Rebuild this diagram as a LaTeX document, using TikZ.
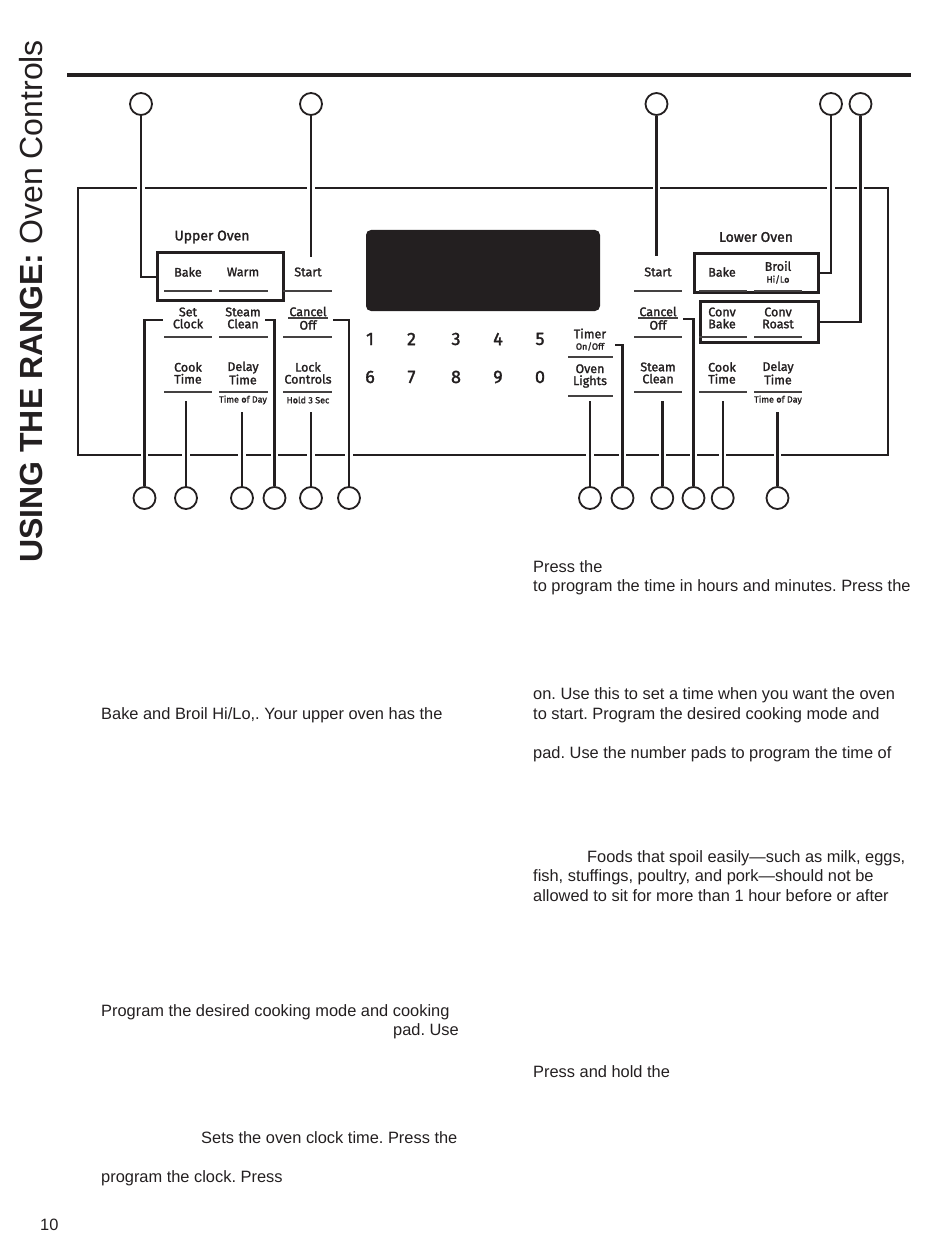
\documentclass[tikz,border=0pt]{standalone}
\usepackage{fontspec}
\setmainfont{Liberation Sans}
\newfontfamily\lab{Fira Sans}[FakeBold=1.6]
\definecolor{ink}{HTML}{231F20}
\frenchspacing
\tikzset{
  panelline/.style={line width=2.4pt, draw=ink},
  conn/.style={line width=2.4pt, draw=ink, preaction={draw=white, line width=7.5pt}},
  callout/.style={circle, draw=ink, line width=1.8pt, fill=white, minimum size=22pt, inner sep=0pt},
  keybox/.style={draw=ink, line width=3pt, inner sep=0pt},
  uline/.style={line width=1.2pt, draw=ink!85},
  btn/.style={font=\lab\fontsize{12.5}{12}\selectfont, text=ink, align=center, inner sep=0pt},
  small/.style={font=\lab\fontsize{9}{9}\selectfont, text=ink, inner sep=0pt},
  digit/.style={font=\lab\fontsize{18}{18}\selectfont, text=ink, inner sep=0pt},
  head/.style={font=\lab\fontsize{14}{14}\selectfont, text=ink, inner sep=0pt},
  body/.style={font=\fontsize{16.4}{19.5}\selectfont, text=ink, anchor=base west, inner sep=0pt},
}
\begin{document}
\begin{tikzpicture}[x=1pt,y=-1pt]
\useasboundingbox (0,0) rectangle (950,1241);
% side title
\node[rotate=90, anchor=base west, inner sep=0pt, text=ink, font=\fontsize{32}{32}\selectfont] (title) at (42,563) {\textbf{USING THE RANGE:} Oven Controls};
% top rule
\draw[line width=3.5pt, draw=ink] (67,75) -- (911,75);
% panel
\draw[panelline] (78,188) rectangle (888,455);
% display
\fill[ink, rounded corners=5pt] (366,230) rectangle (600,311);
% callout circles
\node[callout] (tc1) at (141,104) {};
\node[callout] (tc2) at (311,104) {};
\node[callout] (tc3) at (656.5,104) {};
\node[callout] (tc4) at (831,104) {};
\node[callout] (tc5) at (860.5,104) {};
\node[callout] (bc1) at (144.5,498) {};
\node[callout] (bc2) at (186,498) {};
\node[callout] (bc3) at (242,498) {};
\node[callout] (bc4) at (274.5,498) {};
\node[callout] (bc5) at (311,498) {};
\node[callout] (bc6) at (349,498) {};
\node[callout] (bc7) at (590,498) {};
\node[callout] (bc8) at (622.5,498) {};
\node[callout] (bc9) at (662.3,498) {};
\node[callout] (bc10) at (693.5,498) {};
\node[callout] (bc11) at (722.7,498) {};
\node[callout] (bc12) at (777.5,498) {};
% boxes
\node[keybox, minimum width=126pt, minimum height=48pt] (ubox) at (220.3,276.7) {};
\node[keybox, minimum width=124pt, minimum height=39.4pt] (lbox1) at (756.3,273) {};
\node[keybox, minimum width=118.3pt, minimum height=41.3pt] (lbox2) at (759.2,321.7) {};
% connector end points
\coordinate (c2end) at (311,257);
\coordinate (c3end) at (656.5,256);
\coordinate (e1) at (162.5,320);
\coordinate (e2) at (186,401);
\coordinate (e3) at (242,412);
\coordinate (e4) at (265,320);
\coordinate (e5) at (311,412);
\coordinate (e6) at (333,320);
\coordinate (e7) at (590,401);
\coordinate (e8) at (615,345);
\coordinate (e9) at (662.3,401);
\coordinate (e10) at (683,319);
\coordinate (e11) at (722.7,401);
\coordinate (e12) at (777.5,412);
% connectors
\draw[conn] (tc1.south) |- (ubox.west);
\draw[conn] (tc2.south) -- (c2end);
\draw[conn] (tc3.south) -- (c3end);
\draw[conn] (tc4.south) |- (lbox1.east);
\draw[conn] (tc5.south) |- (lbox2.east);
\draw[conn] (bc1.north) |- (e1);
\draw[conn] (bc2.north) -- (e2);
\draw[conn] (bc3.north) -- (e3);
\draw[conn] (bc4.north) |- (e4);
\draw[conn] (bc5.north) -- (e5);
\draw[conn] (bc6.north) |- (e6);
\draw[conn] (bc7.north) -- (e7);
\draw[conn] (bc8.north) |- (e8);
\draw[conn] (bc9.north) -- (e9);
\draw[conn] (bc10.north) |- (e10);
\draw[conn] (bc11.north) -- (e11);
\draw[conn] (bc12.north) -- (e12);
% redraw boxes on top
\node[keybox, minimum width=126pt, minimum height=48pt] at (220.3,276.7) {};
\node[keybox, minimum width=124pt, minimum height=39.4pt] at (756.3,273) {};
\node[keybox, minimum width=118.3pt, minimum height=41.3pt] at (759.2,321.7) {};
% underlines
\foreach \y in {291,337,392}{
  \draw[uline] (164,\y) -- (212,\y);
  \draw[uline] (219,\y) -- (268,\y);
  \draw[uline] (283,\y) -- (332,\y);
  \draw[uline] (634,\y) -- (682,\y);
  \draw[uline] (699,\y) -- (747,\y);
  \draw[uline] (754,\y) -- (802,\y);
}
\draw[uline] (568,357) -- (613,357);
\draw[uline] (568,396) -- (613,396);
\draw[uline] (288,318) -- (328,318);
\draw[uline] (638,318) -- (678,318);
% headings
\node[head] (uhead) at (212,237) {Upper Oven};
\node[head] (lhead) at (756,237) {Lower Oven};
% left keys
\node[btn] (kbake) at (188,272) {Bake};
\node[btn] (kwarm) at (243,272) {Warm};
\node[btn] (kstart) at (308,272) {Start};
\node[btn] (kclock) at (188,318) {Set\\Clock};
\node[btn] (ksteam) at (243,318) {Steam\\Clean};
\node[btn] (kcancel) at (308,311.5) {Cancel};
\node[btn] (koff) at (308,325) {Off};
\node[btn] (kcook) at (188,373) {Cook\\Time};
\node[btn] (kdelay) at (243,373) {Delay\\Time};
\node[btn] (klock) at (308,373) {Lock\\Controls};
\node[small] (ktod) at (243,400) {Time of Day};
\node[small] (khold) at (308,400) {Hold 3 Sec};
% digits
\node[digit] (d1) at (370,339) {1};
\node[digit] (d2) at (411.5,339) {2};
\node[digit] (d3) at (456,339) {3};
\node[digit] (d4) at (498,339) {4};
\node[digit] (d5) at (540,339) {5};
\node[digit] (d6) at (370,377) {6};
\node[digit] (d7) at (411.5,377) {7};
\node[digit] (d8) at (456,377) {8};
\node[digit] (d9) at (498,377) {9};
\node[digit] (d0) at (540,377) {0};
% timer / lights
\node[btn] (ktimer) at (590,333.5) {Timer};
\node[small] (konoff) at (590,346.5) {On/Off};
\node[btn] (klights) at (590,376) {Oven\\Lights};
% right keys
\node[btn] (rstart) at (658,272) {Start};
\node[btn] (rcancel) at (658,311.5) {Cancel};
\node[btn] (roff) at (658,325) {Off};
\node[btn] (rsteam) at (658,373) {Steam\\Clean};
\node[btn] (rbake) at (722,272) {Bake};
\node[btn] (rbroil) at (778,266) {Broil};
\node[small] (rhilo) at (778,279.5) {Hi/Lo};
\node[btn] (rcbake) at (722,318) {Conv\\Bake};
\node[btn] (rcroast) at (778,318) {Conv\\Roast};
\node[btn] (rcook) at (722,373) {Cook\\Time};
\node[btn] (rdelay) at (778,373) {Delay\\Time};
\node[small] (rtod) at (778,400) {Time of Day};
% body text, right column
\node[body] (r1) at (533,572.5) {Press the};
\node[body] (r2) at (533,591.5) {to program the time in hours and minutes. Press the};
\node[body] (r3) at (533,699.5) {on. Use this to set a time when you want the oven};
\node[body] (r4) at (533,719) {to start. Program the desired cooking mode and};
\node[body] (r5) at (533,758.5) {pad. Use the number pads to program the time of};
\node[body] (r6) at (587,862.5) {Foods that spoil easily—such as milk, eggs,};
\node[body] (r7) at (533,881.5) {fish, stuffings, poultry, and pork—should not be};
\node[body] (r8) at (533,901) {allowed to sit for more than 1 hour before or after};
\node[body] (r9) at (533,1077.5) {Press and hold the};
% body text, left column
\node[body] (l1) at (101,719) {Bake and Broil Hi/Lo,. Your upper oven has the};
\node[body] (l2) at (101,1016.5) {Program the desired cooking mode and cooking};
\node[body, anchor=base east] (l3) at (459,1035.5) {pad. Use};
\node[body] (l4) at (201,1143.5) {Sets the oven clock time. Press the};
\node[body] (l5) at (101,1182.5) {program the clock. Press};
\node[body] (pg) at (40,1230) {10};
\end{tikzpicture}
\end{document}
